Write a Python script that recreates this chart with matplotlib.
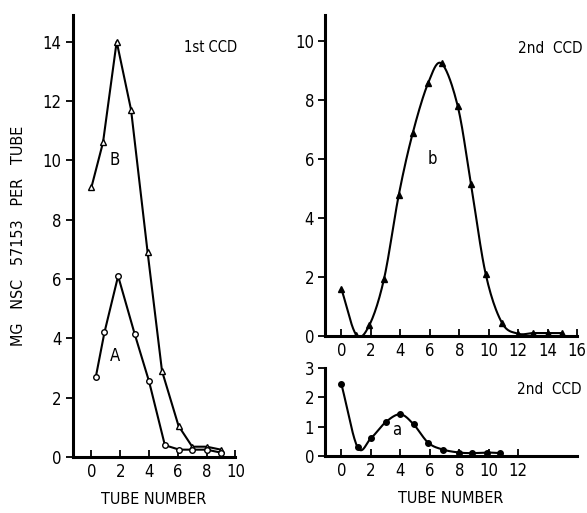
import numpy as np
import matplotlib
matplotlib.use('Agg')
from matplotlib import pyplot as plt

plt.rcParams['font.family'] = ['DejaVu Sans']
plt.rcParams['font.stretch'] = 'condensed'

# 1st CCD, curve B (open triangles) and curve A (open circles)
tube_B = [0, 0.8, 1.75, 2.75, 3.9, 4.9, 6.05, 7, 8, 9]
mg_B = [9.1, 10.6, 14.0, 11.7, 6.9, 2.9, 1.05, 0.35, 0.35, 0.25]
tube_A = [0.3, 0.9, 1.85, 3, 4, 5.1, 6.1, 7, 8, 9]
mg_A = [2.7, 4.2, 6.1, 4.15, 2.55, 0.4, 0.25, 0.25, 0.25, 0.15]

# 2nd CCD, curve b
tube_b = [0, 1, 1.9, 2.9, 3.9, 4.85, 5.9, 6.8, 7.9, 8.8, 9.8, 10.9, 12, 13, 14, 15]
mg_b = [1.6, 0.05, 0.37, 1.95, 4.8, 6.9, 8.6, 9.25, 7.8, 5.15, 2.1, 0.45, 0.08, 0.1, 0.1, 0.1]

# 2nd CCD, curve a
tube_a = [0, 1.1, 2, 3, 4, 4.9, 5.9, 6.9, 8, 8.9, 9.9, 10.8]
mg_a = [2.45, 0.3, 0.6, 1.15, 1.42, 1.08, 0.45, 0.22, 0.12, 0.1, 0.12, 0.1]


def smooth(x, y, n=20):
    # catmull-rom through the points, only for drawing the line
    x = np.asarray(x, float); y = np.asarray(y, float)
    px = np.concatenate([[2*x[0]-x[1]], x, [2*x[-1]-x[-2]]])
    py = np.concatenate([[2*y[0]-y[1]], y, [2*y[-1]-y[-2]]])
    t = np.linspace(0, 1, n)[:, None]
    xs, ys = [], []
    for i in range(1, len(px)-2):
        for p, out in ((px, xs), (py, ys)):
            p0, p1, p2, p3 = p[i-1], p[i], p[i+1], p[i+2]
            out.append((0.5*((2*p1) + (-p0+p2)*t + (2*p0-5*p1+4*p2-p3)*t**2
                             + (-p0+3*p1-3*p2+p3)*t**3)).ravel())
    return np.concatenate(xs), np.concatenate(ys)


def style(ax):
    for s in ('top', 'right'):
        ax.spines[s].set_visible(False)
    for s in ('left', 'bottom'):
        ax.spines[s].set_linewidth(2.2)
    ax.tick_params(axis='x', direction='in', length=5, width=1.3, labelsize=12, pad=4)
    ax.tick_params(axis='y', direction='out', length=5, width=1.3, labelsize=12, pad=3)


fig = plt.figure(figsize=(5.87, 5.13), dpi=100)

ax1 = fig.add_axes([0.124, 0.109, 0.277, 0.862])
ax1.plot(tube_B, mg_B, color='black', lw=1.5, marker='^', ms=5,
         mfc='white', mec='black', mew=1)
ax1.plot(tube_A, mg_A, color='black', lw=1.5, marker='o', ms=4,
         mfc='white', mec='black', mew=1)
ax1.set_xlim(-1.3, 10)
ax1.set_ylim(0, 14.9)
ax1.set_xticks(range(0, 11, 2))
ax1.set_yticks(range(0, 15, 2))
ax1.text(1.6, 10.0, 'B', fontsize=12, ha='center', va='center')
ax1.text(1.65, 3.4, 'A', fontsize=12, ha='center', va='center')
ax1.text(8.3, 13.8, '1st CCD', fontsize=10.5, ha='center', va='center')
ax1.set_xlabel('TUBE NUMBER', fontsize=11.5, labelpad=8)
ax1.set_ylabel('MG   NSC   57153   PER   TUBE', fontsize=11.5, labelpad=12)
style(ax1)

ax2 = fig.add_axes([0.554, 0.345, 0.429, 0.626])
sx, sy = smooth(tube_b, mg_b)
ax2.plot(sx, sy, color='black', lw=1.5)
ax2.plot(tube_b, mg_b, ls='none', marker='^', ms=5, color='black')
ax2.set_xlim(-1.1, 16)
ax2.set_ylim(0, 10.9)
ax2.set_xticks(range(0, 17, 2))
ax2.set_yticks(range(0, 11, 2))
ax2.text(6.2, 6.0, 'b', fontsize=12, ha='center', va='center')
ax2.text(14.2, 9.75, '2nd  CCD', fontsize=11, ha='center', va='center')
style(ax2)

ax3 = fig.add_axes([0.554, 0.111, 0.429, 0.172])
sx, sy = smooth(tube_a, mg_a)
ax3.plot(sx, sy, color='black', lw=1.5)
ax3.plot(tube_a, mg_a, ls='none', marker='o', ms=4, color='black')
ax3.set_xlim(-1.1, 16)
ax3.set_ylim(0, 3)
ax3.set_xticks(range(0, 13, 2))
ax3.set_yticks(range(0, 4))
ax3.text(3.75, 0.9, 'a', fontsize=12, ha='center', va='center')
ax3.text(14.1, 2.25, '2nd  CCD', fontsize=11, ha='center', va='center')
ax3.set_xlabel('TUBE NUMBER', fontsize=11.5, labelpad=8)
style(ax3)

fig.savefig('out.png', dpi=100)
